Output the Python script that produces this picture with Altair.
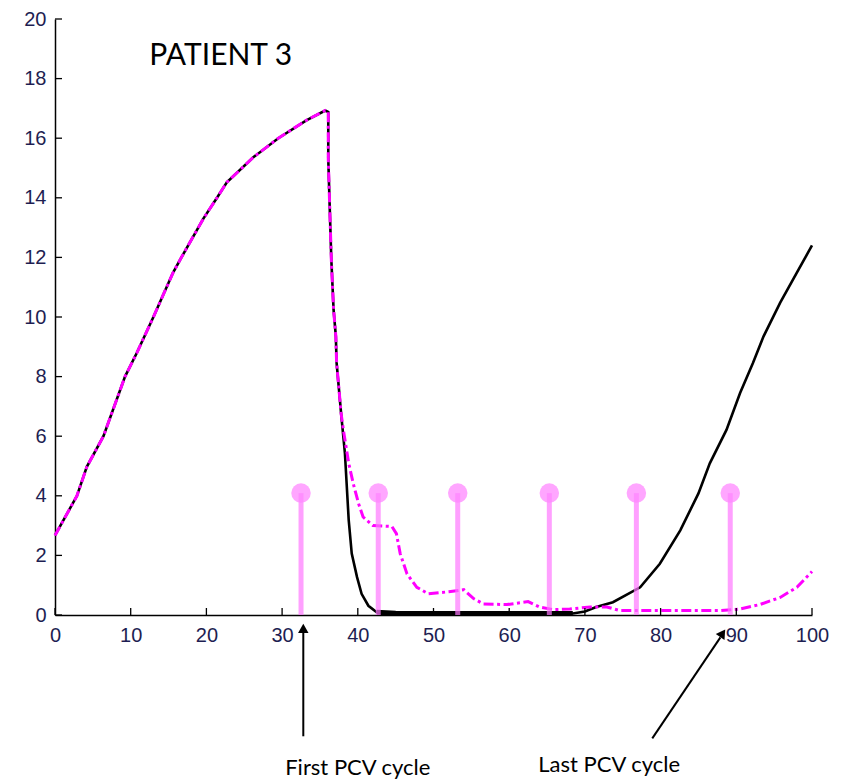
import altair as alt
import pandas as pd

# ---- data ----
rise_x = [0, 2.9, 4.2, 6.4, 9.25, 10.8, 13.0, 15.6, 16.7, 19.6, 21.4, 22.7, 26.2, 29.5, 33.2, 35.7, 36.1]
rise_y = [2.67, 4.0, 4.97, 6.0, 8.0, 8.79, 10.0, 11.49, 12.0, 13.3, 14.0, 14.52, 15.36, 16.0, 16.6, 16.93, 16.88]

fall_x = [36.1, 36.3, 36.5, 36.8, 37.1, 37.2, 37.8]
fall_y = [15.3, 13.6, 11.94, 10.25, 9.35, 8.46, 6.75]

black_x = [38.3, 38.8, 39.2, 39.9, 40.5, 41.4, 42.5, 45, 50, 55, 60, 65, 68.4, 70, 71.5, 73.7,
           77.3, 79.9, 82.6, 85.0, 86.5, 88.7, 90.5, 92.2, 93.6, 95.8, 98.0, 100]
black_y = [5.42, 3.18, 2.06, 1.27, 0.71, 0.31, 0.09, 0.06, 0.05, 0.05, 0.05, 0.05, 0.05, 0.12, 0.27, 0.43,
           0.93, 1.72, 2.84, 4.08, 5.09, 6.21, 7.45, 8.46, 9.35, 10.48, 11.49, 12.4]

magenta_x = [38.1, 38.8, 39.4, 40.1, 40.7, 42.0, 44.5, 45.1, 45.6, 46.5, 47.8, 49.3, 52.0, 54.0, 55.3, 56.6,
             59.7, 62.5, 64.0, 65.8, 68.0, 70.7, 72.9, 74.6, 77.3, 80, 83, 87.8, 90.5, 93.1, 95.8, 98.0, 100]
magenta_y = [6.2, 5.09, 4.41, 3.74, 3.29, 3.0, 2.97, 2.73, 2.06, 1.38, 0.93, 0.71, 0.78, 0.85, 0.55, 0.37,
             0.35, 0.45, 0.27, 0.18, 0.2, 0.27, 0.27, 0.15, 0.15, 0.15, 0.15, 0.15, 0.2, 0.35, 0.59, 0.93, 1.46]

stem_x = [32.5, 42.7, 53.2, 65.3, 76.8, 89.2]
stem_y = [4.09, 4.09, 4.09, 4.09, 4.09, 4.09]

x_ticks = [0, 10, 20, 30, 40, 50, 60, 70, 80, 90, 100]
y_ticks = [0, 2, 4, 6, 8, 10, 12, 14, 16, 18, 20]

title_text = ["PATIENT 3"]
title_pos = [(21.9, 18.45)]
notes = ["First PCV cycle", "Last PCV cycle"]
notes_pos = [(40.0, -5.38), (73.2, -5.28)]
arrow_from = [(32.8, -4.07), (78.9, -4.14)]
arrow_to = [(32.8, -0.6), (87.9, -0.75)]
arrow_head = [(32.8, -0.45), (88.2, -0.61)]
arrow_angle = [0, 34]

# ---- tables ----
bx = rise_x + fall_x + black_x
by = rise_y + fall_y + black_y
mx = rise_x + fall_x + magenta_x
my = rise_y + fall_y + magenta_y
black_df = pd.DataFrame({"x": bx, "y": by, "o": list(range(len(bx)))})
mag_df = pd.DataFrame({"x": mx, "y": my, "o": list(range(len(mx)))})
stem_df = pd.DataFrame({"x": stem_x, "y": stem_y})
xt_df = pd.DataFrame({"t": x_ticks})
yt_df = pd.DataFrame({"t": y_ticks})
title_df = pd.DataFrame({"x": [p[0] for p in title_pos], "y": [p[1] for p in title_pos], "label": title_text})
notes_df = pd.DataFrame({"x": [p[0] for p in notes_pos], "y": [p[1] for p in notes_pos], "label": notes})
arrow_df = pd.DataFrame({
    "x": [p[0] for p in arrow_from], "y": [p[1] for p in arrow_from],
    "x2": [p[0] for p in arrow_to], "y2": [p[1] for p in arrow_to],
})
head_df = pd.DataFrame({"x": [p[0] for p in arrow_head], "y": [p[1] for p in arrow_head], "a": arrow_angle})

W, H = 757, 596
label_font = "Liberation Sans"
label_color = "#1e1e52"

xs = alt.Scale(domain=[0, 100], nice=False, zero=False)
ys = alt.Scale(domain=[0, 20], nice=False, zero=False)

X = alt.X("x:Q", scale=xs, axis=alt.Axis(values=x_ticks, ticks=False, grid=False, domainColor="black",
                                         domainWidth=1.5, labelFont=label_font, labelFontSize=20,
                                         labelColor=label_color, labelPadding=10, title=None,
                                         labelFlush=False, labelOverlap=False))
Y = alt.Y("y:Q", scale=ys, axis=alt.Axis(values=y_ticks, ticks=False, grid=False, domainColor="black",
                                         domainWidth=1.5, labelFont=label_font, labelFontSize=20,
                                         labelColor=label_color, labelPadding=9, title=None,
                                         labelFlush=False, labelOverlap=False))

black_line = alt.Chart(black_df).mark_line(color="black", strokeWidth=2.6).encode(
    x=X, y=Y, order="o:Q")
black_flat = alt.Chart(black_df).transform_filter(
    (alt.datum.x >= 42.5) & (alt.datum.x <= 69)
).mark_line(color="black", strokeWidth=5).encode(x="x:Q", y="y:Q", order="o:Q")
mag_line = alt.Chart(mag_df).mark_line(color="#ff00ff", strokeWidth=3, strokeDash=[10, 3.5, 3, 3.5]).encode(
    x="x:Q", y="y:Q", order="o:Q")

stems = alt.Chart(stem_df).transform_calculate(base="0").mark_rule(
    color="#ff77ff", opacity=0.7, strokeWidth=5).encode(x="x:Q", y="base:Q", y2="y:Q")
heads = alt.Chart(stem_df).mark_circle(color="#ff88ff", opacity=0.75, size=380).encode(x="x:Q", y="y:Q")

xtick_marks = alt.Chart(xt_df).mark_rule(color="black", strokeWidth=1.3).encode(
    x="t:Q", y=alt.value(H), y2=alt.value(H - 7))
ytick_marks = alt.Chart(yt_df).mark_rule(color="black", strokeWidth=1.3).encode(
    y="t:Q", x=alt.value(0), x2=alt.value(7))

title_mark = alt.Chart(title_df).mark_text(font="Lato", fontSize=30, color="black", align="center",
                                           baseline="alphabetic").encode(x="x:Q", y="y:Q", text="label:N")
notes_mark = alt.Chart(notes_df).mark_text(font="Lato", fontSize=22, color="black", align="center",
                                           baseline="alphabetic").encode(x="x:Q", y="y:Q", text="label:N")
arrows = alt.Chart(arrow_df).mark_rule(color="black", strokeWidth=2).encode(
    x="x:Q", y="y:Q", x2="x2:Q", y2="y2:Q")
arrow_heads = alt.Chart(head_df).mark_point(shape="triangle-up", filled=True, color="black", size=110,
                                            opacity=1).encode(
    x="x:Q", y="y:Q", angle=alt.Angle("a:Q", scale=None))

chart = alt.layer(
    black_line, black_flat, mag_line, stems, heads, xtick_marks, ytick_marks,
    title_mark, notes_mark, arrows, arrow_heads
).properties(
    width=W, height=H,
    autosize=alt.AutoSizeParams(type="none"),
    padding={"left": 55, "top": 19, "right": 31, "bottom": 165},
    background="white",
).configure_view(stroke=None)

chart.save("out.html", embed_options={"renderer": "svg", "actions": False})
